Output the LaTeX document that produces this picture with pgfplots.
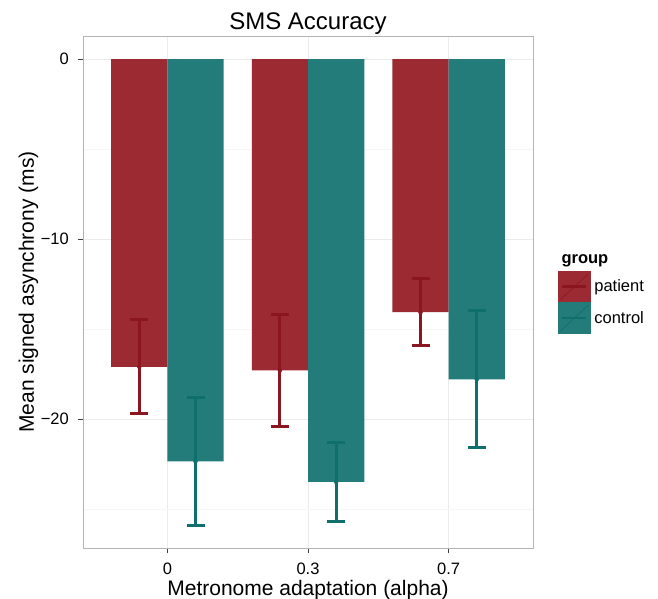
\documentclass[border=0pt]{standalone}
\usepackage{pgfplots}
\pgfplotsset{compat=1.18}
\usepackage{fontspec}
\setmainfont{Liberation Sans}
\definecolor{patfill}{RGB}{155,42,51}
\definecolor{paterr}{RGB}{140,22,32}
\definecolor{ctlfill}{RGB}{35,124,122}
\definecolor{ctlerr}{RGB}{14,111,109}
\definecolor{gridmaj}{RGB}{235,235,235}
\definecolor{gridmin}{RGB}{246,246,246}
\definecolor{panelborder}{RGB}{180,180,180}
\pgfplotstableread{
x y e
-0.2 -17.10 2.60
0.8 -17.30 3.10
1.8 -14.07 1.87
}\patienterr
\pgfplotstableread{
x y e
0.2 -22.35 3.55
1.2 -23.50 2.20
2.2 -17.80 3.80
}\controlerr
\begin{document}
\begin{tikzpicture}
\useasboundingbox (0,0) rectangle (658pt,598pt);
\begin{axis}[
  at={(83pt,50pt)}, anchor=south west,
  scale only axis, width=450pt, height=512pt,
  xmin=-0.6, xmax=2.6, ymin=-27.17, ymax=1.28,
  xtick={0,1,2}, xticklabels={0,0.3,0.7},
  ytick={-20,-10,0}, yticklabels={−20,−10,0},
  minor ytick={-25,-15,-5},
  grid=both,
  major grid style={gridmaj, line width=0.9pt},
  minor grid style={gridmin, line width=0.9pt},
  axis line style={panelborder, line width=0.8pt},
  tick align=outside, tick pos=left,
  major tick length=5pt, minor tick length=0pt,
  tick style={black!75, line width=0.9pt},
  xticklabel style={font=\fontsize{16.5}{19}\selectfont, anchor=base, yshift=-21pt},
  yticklabel style={font=\fontsize{16.5}{19}\selectfont, anchor=east, inner xsep=0pt, xshift=-9pt},
  every axis title/.style={at={(0.5,1)}, anchor=base, yshift=6pt, font=\fontsize{24}{28}\selectfont},
  title={SMS Accuracy},
  every axis x label/.style={at={(axis description cs:0.5,-0.0918)}, anchor=base, font=\fontsize{21}{25}\selectfont},
  every axis y label/.style={at={(axis description cs:-0.109,0.5)}, rotate=90, anchor=base, font=\fontsize{21}{25}\selectfont},
  xlabel={Metronome adaptation (alpha)},
  ylabel={Mean signed asynchrony (ms)},
  legend style={at={(1.0556,0.5416)}, anchor=north west, draw=none, fill=none, inner sep=0pt, row sep=0pt, column sep=4pt, font=\fontsize{16.5}{19}\selectfont, nodes={inner sep=0pt}},
  legend cell align=left,
]
\addplot[ybar, bar width=0.4, bar shift=-0.2, fill=patfill, draw=none, forget plot] coordinates {(0,-17.10) (1,-17.30) (2,-14.07)};
\addplot[ybar, bar width=0.4, bar shift=0.2, fill=ctlfill, draw=none, forget plot] coordinates {(0,-22.35) (1,-23.50) (2,-17.80)};
\addplot[only marks, mark=none, paterr, forget plot, error bars/.cd, y dir=both, y explicit, error mark=|,
  error bar style={paterr, line width=3pt}, error mark options={paterr, line width=3pt, mark size=9pt}]
  table[x=x, y=y, y error=e] {\patienterr};
\addplot[only marks, mark=none, ctlerr, forget plot, error bars/.cd, y dir=both, y explicit, error mark=|,
  error bar style={ctlerr, line width=3pt}, error mark options={ctlerr, line width=3pt, mark size=9pt}]
  table[x=x, y=y, y error=e] {\controlerr};
\addlegendimage{legend image code/.code={
  \fill[patfill] (0pt,-15.5pt) rectangle (31.7pt,15.5pt);
  \draw[paterr, line width=2.5pt] (4pt,0pt) -- (28pt,0pt);
  \draw[paterr, line width=0.6pt] (2pt,-13pt) -- (30pt,13pt);}}
\addlegendentry{patient}
\addlegendimage{legend image code/.code={
  \fill[ctlfill] (0pt,-15.5pt) rectangle (31.7pt,15.5pt);
  \draw[ctlerr, line width=2.5pt] (4pt,0pt) -- (28pt,0pt);
  \draw[ctlerr, line width=0.6pt] (2pt,-13pt) -- (30pt,13pt);}}
\addlegendentry{control}
\end{axis}
\node[anchor=base west, font=\fontsize{16.5}{19}\selectfont\bfseries] at (558pt,334.7pt) {group};
\end{tikzpicture}
\end{document}
